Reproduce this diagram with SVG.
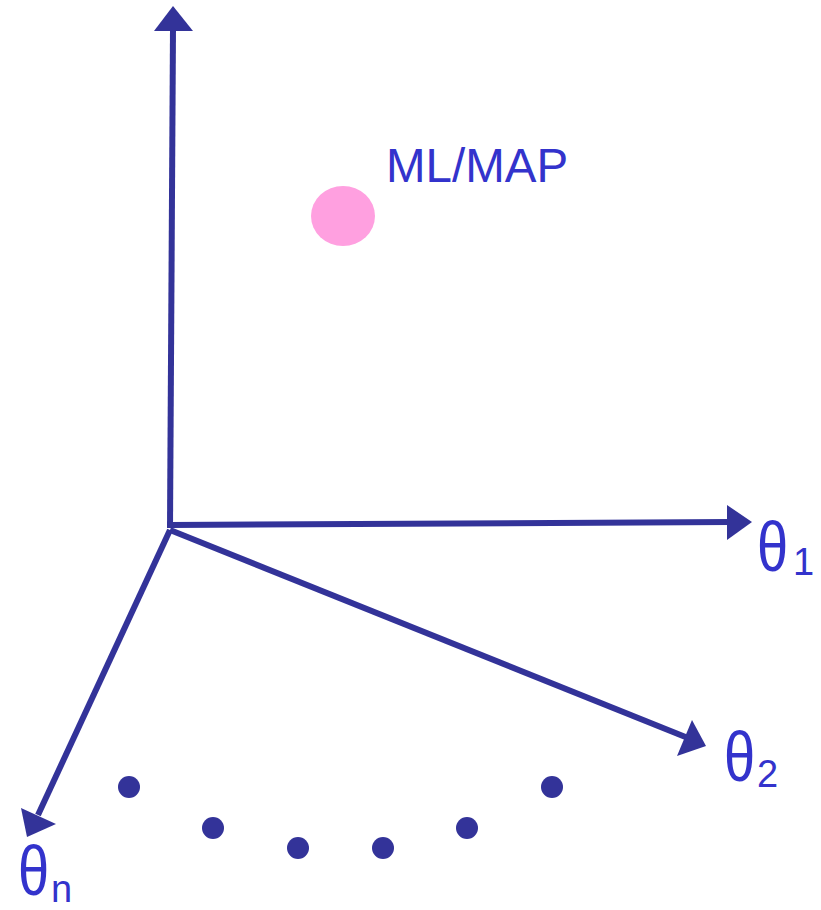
<svg xmlns="http://www.w3.org/2000/svg" width="821" height="910" viewBox="0 0 821 910">
<style>
.ax{stroke:#333399;stroke-width:6;fill:none}
.ah{fill:#333399}
.lbl{font-family:"Liberation Sans",Arial,sans-serif;fill:#3333CC}
.th{font-size:70px}
.sub{font-size:38px}
.dot{fill:#333399}
</style>
<rect width="821" height="910" fill="#ffffff"/>
<g id="connectors">
<line class="ax" x1="170" y1="528" x2="173" y2="28"/>
<polygon class="ah" points="173,6 154,31 193,31"/>
<line class="ax" x1="170" y1="525" x2="730" y2="522"/>
<polygon class="ah" points="752,522 727,505 727,540"/>
<line class="ax" x1="170" y1="530" x2="688" y2="738"/>
<polygon class="ah" points="706,746 692,720 677,756"/>
<line class="ax" x1="170" y1="530" x2="38" y2="815"/>
<polygon class="ah" points="27,837 21,808 56,824"/>
</g>
<g id="mlmap">
<ellipse cx="343" cy="216" rx="32" ry="30" fill="#FFA0E0"/>
<text class="lbl" x="386" y="182" font-size="47.5">ML/MAP</text>
</g>
<g id="theta1">
<text class="lbl th" transform="translate(757,571) scale(0.8,1)">θ</text>
<text class="lbl sub" x="793" y="575">1</text>
</g>
<g id="theta2">
<text class="lbl th" transform="translate(724,781) scale(0.8,1)">θ</text>
<text class="lbl sub" x="757" y="787">2</text>
</g>
<g id="thetan">
<text class="lbl th" transform="translate(18,895) scale(0.8,1)">θ</text>
<text class="lbl sub" x="51" y="902">n</text>
</g>
<g id="dots">
<circle class="dot" cx="129" cy="787" r="11"/>
<circle class="dot" cx="213" cy="828" r="11"/>
<circle class="dot" cx="298" cy="848" r="11"/>
<circle class="dot" cx="383" cy="848" r="11"/>
<circle class="dot" cx="467" cy="828" r="11"/>
<circle class="dot" cx="552" cy="787" r="11"/>
</g>
</svg>
